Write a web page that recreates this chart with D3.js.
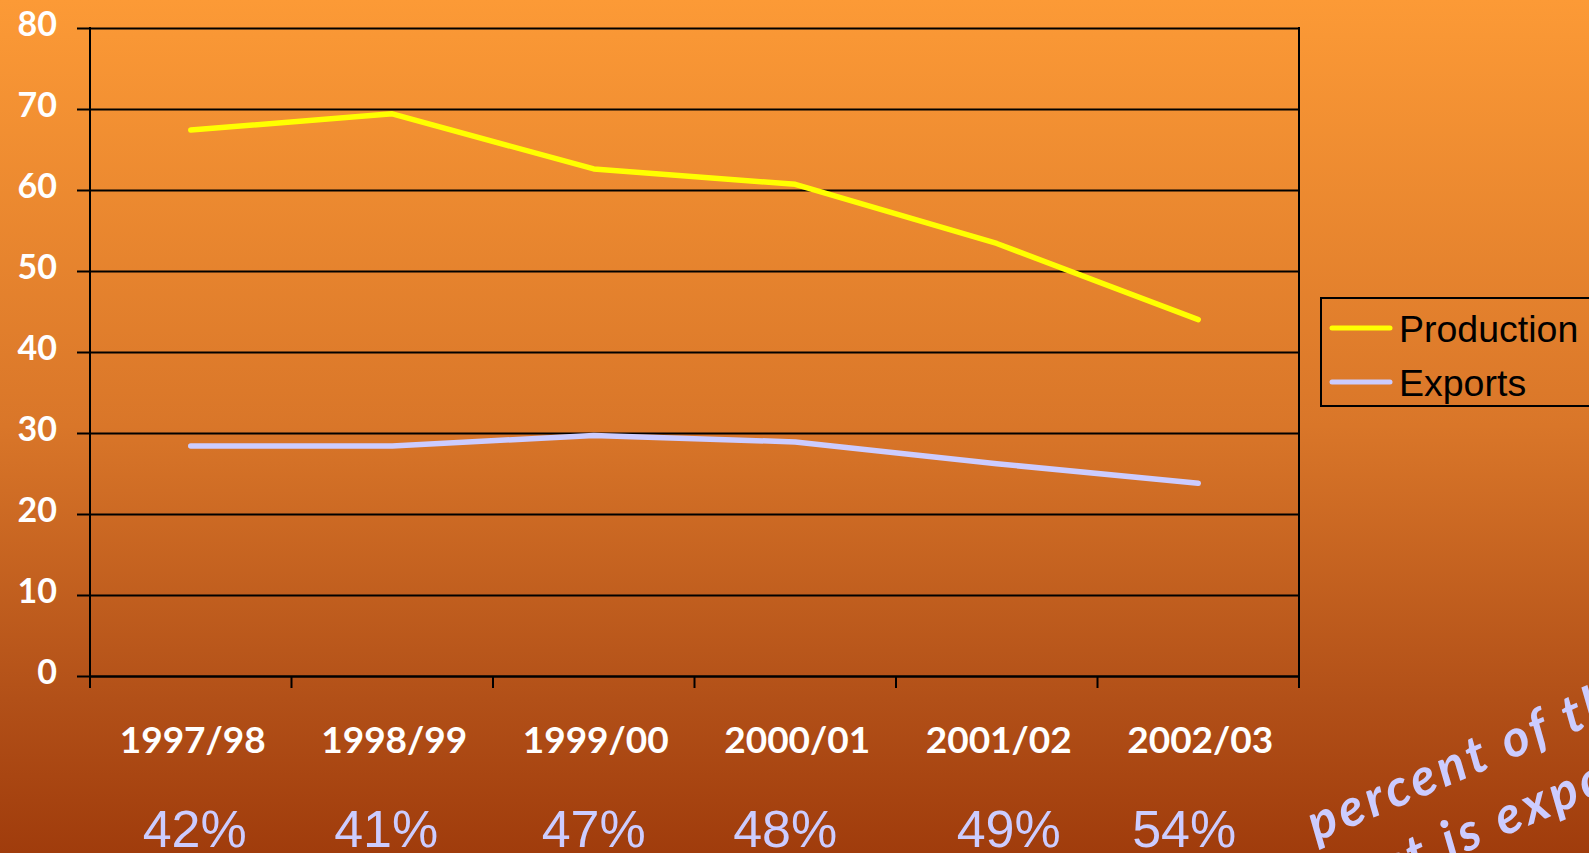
<!DOCTYPE html>
<html>
<head>
<meta charset="utf-8">
<script src="https://cdn.jsdelivr.net/npm/d3@7"></script>
<style>
  html, body { margin: 0; padding: 0; overflow: hidden; }
  svg { display: block; }
</style>
</head>
<body>
<svg id="chart" width="1589" height="853"></svg>
<script>
// data
const categories = ['1997/98', '1998/99', '1999/00', '2000/01', '2001/02', '2002/03'];
const production = [67.4, 69.4, 62.6, 60.7, 53.4, 44.0];
const exports = [28.4, 28.4, 29.7, 28.9, 26.2, 23.8];
const shares = ['42%', '41%', '47%', '48%', '49%', '54%'];
const shareNudge = [4, -6, 0, -10, 12, -14];
const yTicks = [0, 10, 20, 30, 40, 50, 60, 70, 80];
const seriesNames = ['Production', 'Exports'];
const seriesColors = ['#ffff00', '#ccccff'];

const W = 1589, H = 853;
const plot = {left: 90, right: 1299, top: 28, bottom: 676};

const svg = d3.select('#chart');

// background gradient
const grad = svg.append('defs').append('linearGradient')
    .attr('id', 'bg')
    .attr('x1', 0).attr('y1', 0).attr('x2', 0).attr('y2', 1);
[[0, '#fc9a36'], [0.5, '#d97629'], [0.82, '#b25018'], [1, '#a03c0c']].forEach(s => {
  grad.append('stop').attr('offset', s[0]).attr('stop-color', s[1]);
});
svg.append('rect').attr('width', W).attr('height', H).attr('fill', 'url(#bg)');

const x = d3.scaleBand().domain(categories).range([plot.left, plot.right]).padding(0);
const y = d3.scaleLinear().domain([0, 80]).range([plot.bottom, plot.top]);
const cx = d => x(d) + x.bandwidth() / 2;

// gridlines + y ticks
const yAxis = d3.axisLeft(y).tickValues(yTicks).tickSize(-(plot.right - plot.left)).tickSizeOuter(0)
    .tickFormat(d3.format('d'));
const gy = svg.append('g').attr('transform', `translate(${plot.left},0)`).call(yAxis);
gy.select('.domain').remove();
gy.selectAll('.tick line').attr('stroke', '#000').attr('stroke-width', 2).attr('x1', -13);
gy.selectAll('.tick text')
    .attr('fill', '#fff')
    .attr('font-family', 'Lato, sans-serif')
    .attr('font-weight', 'bold')
    .attr('font-size', 34)
    .attr('dy', '0.22em')
    .attr('x', -33);

// x axis with boundary ticks
const xAxis = d3.axisBottom(x).tickSize(0).tickFormat('');
const gx = svg.append('g').attr('transform', `translate(0,${plot.bottom})`).call(xAxis);
gx.select('.domain').attr('stroke', '#000').attr('stroke-width', 2);
const bounds = categories.map(c => x(c)).concat([plot.right]);
svg.append('g').selectAll('line').data(bounds).join('line')
    .attr('x1', d => d).attr('x2', d => d)
    .attr('y1', plot.bottom).attr('y2', plot.bottom + 12)
    .attr('stroke', '#000').attr('stroke-width', 2);

// left and right frame
[plot.left, plot.right].forEach(px => {
  svg.append('line')
      .attr('x1', px).attr('x2', px)
      .attr('y1', plot.top - 1).attr('y2', plot.bottom + 12)
      .attr('stroke', '#000').attr('stroke-width', 2);
});

// category labels
svg.append('g').selectAll('text').data(categories).join('text')
    .attr('x', d => cx(d) + 2)
    .attr('y', 753)
    .attr('text-anchor', 'middle')
    .attr('fill', '#fff')
    .attr('font-family', 'Lato, sans-serif')
    .attr('font-weight', 'bold')
    .attr('font-size', 37)
    .text(d => d);

// share of production exported
svg.append('g').selectAll('text').data(shares).join('text')
    .attr('x', (d, i) => cx(categories[i]) + shareNudge[i])
    .attr('y', 847)
    .attr('text-anchor', 'middle')
    .attr('fill', '#ccccff')
    .attr('font-family', '"Liberation Sans", Arial, sans-serif')
    .attr('font-size', 52)
    .text(d => d);

// lines
const line = d3.line().x((d, i) => cx(categories[i])).y(d => y(d));
[production, exports].forEach((s, i) => {
  svg.append('path')
      .datum(s)
      .attr('d', line)
      .attr('fill', 'none')
      .attr('stroke', seriesColors[i])
      .attr('stroke-width', 5.5)
      .attr('stroke-linecap', 'round')
      .attr('stroke-linejoin', 'round');
});

// legend
const lg = svg.append('g').attr('transform', 'translate(1321,298)');
lg.append('rect')
    .attr('width', 300).attr('height', 108)
    .attr('fill', 'none').attr('stroke', '#000').attr('stroke-width', 2);
seriesNames.forEach((n, i) => {
  const ly = 30 + i * 54;
  lg.append('line')
      .attr('x1', 11).attr('x2', 69).attr('y1', ly).attr('y2', ly)
      .attr('stroke', seriesColors[i]).attr('stroke-width', 5).attr('stroke-linecap', 'round');
  lg.append('text')
      .attr('x', 78).attr('y', ly + 14)
      .attr('fill', '#000')
      .attr('font-family', '"Liberation Sans", Arial, sans-serif')
      .attr('font-size', 37.5)
      .text(n);
});

// rotated note, running off the edge
const note = svg.append('text')
    .attr('transform', 'translate(1316,842) rotate(-23)')
    .attr('fill', '#ccccff')
    .attr('font-family', 'Lato, sans-serif')
    .attr('font-weight', 'bold')
    .attr('font-style', 'italic')
    .attr('font-size', 52)
    .attr('letter-spacing', 4);
note.append('tspan').attr('x', 0).attr('y', 0).text('percent of the crop');
note.append('tspan').attr('x', -8).attr('y', 68).text('that is exported');
</script>
</body>
</html>
